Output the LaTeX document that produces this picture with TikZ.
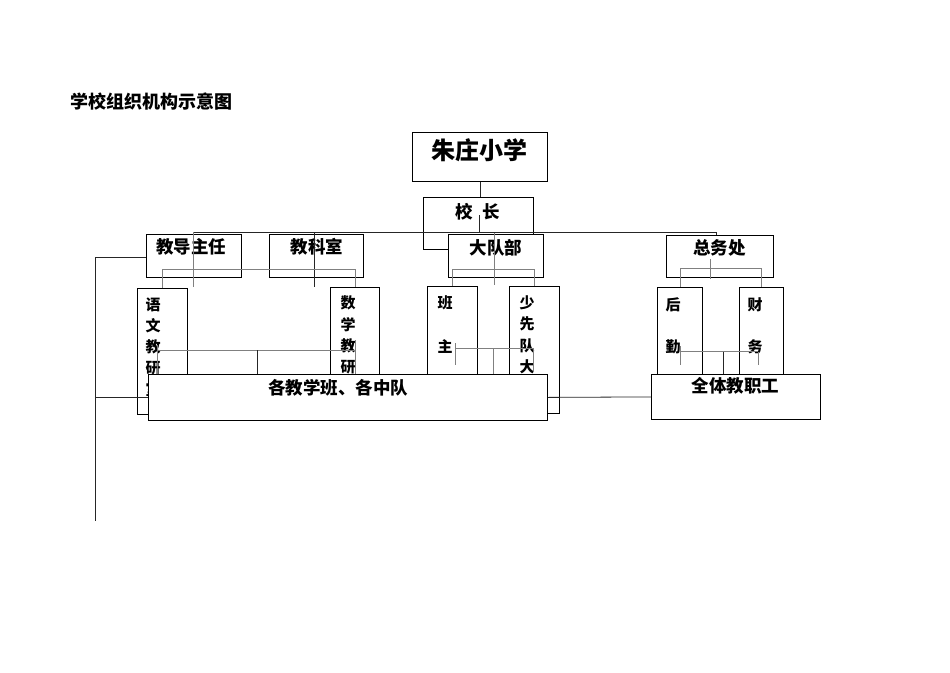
\documentclass[tikz,border=0pt]{standalone}
\usepackage{fontspec}
\newfontfamily\cjk{Noto Sans CJK SC}
\usepackage{tikz}

\begin{document}
\begin{tikzpicture}[x=1pt, y=-1pt,
  box/.style={draw, fill=white, line width=0.8pt, inner sep=0pt, anchor=north west},
  boxtext/.style={font=\cjk\bfseries\fontsize{17.5}{20}\selectfont, inner sep=0pt},
  vchar/.style={font=\cjk\bfseries\fontsize{15}{18}\selectfont, inner sep=0pt},
  link/.style={draw=black!85, line width=0.8pt},
  sublink/.style={draw=black!50, line width=0.8pt},
]
\useasboundingbox (0,0) rectangle (950,672);

% === Title ===
\node[font=\cjk\bfseries\fontsize{18}{20}\selectfont, anchor=west, inner sep=0pt]
  (title) at (70,102) {学校组织机构示意图};

% === Top levels ===
\node[box, minimum width=135, minimum height=49] (school) at (412,132) {};
\node[boxtext, font=\cjk\bfseries\fontsize{24}{26}\selectfont] (schooltext) at (479.5,150) {朱庄小学};

\node[box, minimum width=110, minimum height=52] (head) at (423,197) {};
\node[boxtext] (headtext) at (478,212) {校\hspace{10pt}长};

\node[box, minimum width=95, minimum height=43] (jd) at (146,234) {};
\node[box, minimum width=94, minimum height=43] (jk) at (269,234) {};
\node[box, minimum width=95, minimum height=43] (dd) at (448,234) {};
\node[box, minimum width=107, minimum height=42] (zw) at (666,235) {};
\node[boxtext] (jdtext) at (191,247) {教导主任};
\node[boxtext] (jktext) at (317,247) {教科室};
\node[boxtext] (ddtext) at (496,248) {大队部};
\node[boxtext] (zwtext) at (719.5,248) {总务处};

% === Narrow boxes, text downwards ===
\node[box, minimum width=50, minimum height=126] (yw) at (137,288) {};
\node[box, minimum width=49, minimum height=123] (sx) at (330,287) {};
\node[box, minimum width=50, minimum height=124] (bzr) at (427,286) {};
\node[box, minimum width=50, minimum height=127] (sxd) at (509,286) {};
\node[box, minimum width=45, minimum height=120] (hq) at (657,287) {};
\node[box, minimum width=44, minimum height=120] (cw) at (739,287) {};

\foreach \name/\x/\y/\dy/\chars in {yw/153/305/21/{语,文,教,研,室},
    sx/348/303/21.3/{数,学,教,研}, bzr/445/303/43.5/{班,主},
    sxd/527/303/21.3/{少,先,队,大}, hq/673/305/42/{后,勤}, cw/755/305/42/{财,务}} {
  \foreach \ch [count=\i from 0] in \chars {
    \node[vchar] (\name-\i) at (\x, \y+\dy*\i) {\ch};
  }
}

% === Connectors ===
\coordinate (busL) at (193,232);
\coordinate (busR) at (716,232);
\draw[link] (school.south) -- (school.south |- head.north);
\draw[link] (busL) -- (busR) -- (busR |- zw.north);
\draw[link] (479,215) -- (479,232);
\draw[sublink] (busL) -- (193,287);
\draw[link] (314,232) -- (314,287);
\draw[sublink] (494,233) -- (494,285);
\draw[sublink] (710.7,259) -- (710.7,279);

\draw[sublink] (yw.north) -- ++(0,-19) -| (sx.north);
\draw[sublink] (bzr.north) -- ++(0,-17) -| (sxd.north);
\draw[sublink] (hq.north) -- ++(0,-19) -| (cw.north);

\draw[sublink] (157,345) -- (157,374);
\draw[sublink] (157,350) -- (355,350);
\draw[link] (257,350) -- (257,374);
\draw[sublink] (355,340) -- (355,374);

\draw[sublink] (455,343) -- (455,365);
\draw[sublink] (455,348) -- (533,348);
\draw[sublink] (493,348) -- (493,374);
\draw[sublink] (533,348) -- (533,372);

\draw[sublink] (680,346) -- (680,365);
\draw[sublink] (680,351.5) -- (758.3,351.5);
\draw[link] (723.3,351.5) -- (723.3,374);
\draw[sublink] (758.3,351.5) -- (758.3,365);

% === Bottom boxes ===
\node[box, minimum width=399, minimum height=46] (cls) at (148,374) {};
\node[boxtext] (clstext) at (338,388) {各教学班、各中队};
\node[box, minimum width=169, minimum height=45] (staff) at (651,374) {};
\node[boxtext] (stafftext) at (735.5,386) {全体教职工};

\draw[link] (jd.west |- 0,257) -| (95,521);
\draw[link] (cls.west) -- ++(-53,0);
\draw[link] (cls.east) -- (staff.west);

\end{tikzpicture}
\end{document}
